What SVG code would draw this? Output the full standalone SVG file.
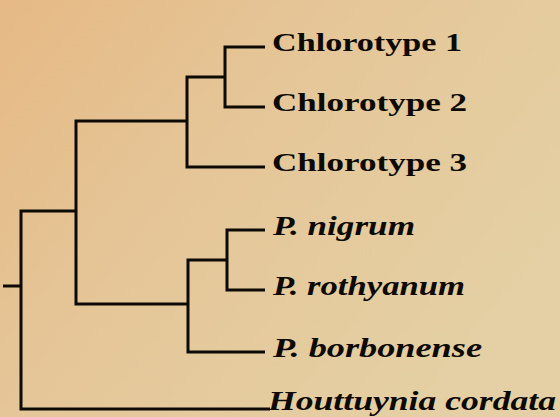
<svg xmlns="http://www.w3.org/2000/svg" width="560" height="417" viewBox="0 0 560 417">
  <defs>
    <linearGradient id="bg" x1="0" y1="0" x2="1" y2="0.6">
      <stop offset="0" stop-color="#e6b985"/>
      <stop offset="0.45" stop-color="#e5c698"/>
      <stop offset="1" stop-color="#e4d0a4"/>
    </linearGradient>
  </defs>
  <style>
    .br { fill: none; stroke: #0d0a06; stroke-width: 3; stroke-linecap: butt; stroke-linejoin: miter; }
    .lab { font-family: "Liberation Serif", "Times New Roman", serif; font-size: 26px; fill: #0d0a06; font-weight: bold; }
    .it { font-style: italic; font-size: 27px; }
  </style>
  <rect x="0" y="0" width="560" height="417" fill="url(#bg)"/>
  <g id="connectors">
    <path class="br" d="M3,286 H21"/>
    <path class="br" d="M76,409 H21 V211 H76"/>
    <path class="br" d="M187,304 H76 V121 H187"/>
    <path class="br" d="M265,167 H187 V77 H225"/>
    <path class="br" d="M265,47 H225 V107 H265"/>
    <path class="br" d="M265,352 H188 V260 H227"/>
    <path class="br" d="M265,230 H227 V290 H265"/>
    <path class="br" d="M76,409 H270"/>
  </g>
  <g id="chlorotype1"><text class="lab" x="272" y="51" textLength="190" lengthAdjust="spacingAndGlyphs">Chlorotype 1</text></g>
  <g id="chlorotype2"><text class="lab" x="272" y="111" textLength="195" lengthAdjust="spacingAndGlyphs">Chlorotype 2</text></g>
  <g id="chlorotype3"><text class="lab" x="272" y="171" textLength="195" lengthAdjust="spacingAndGlyphs">Chlorotype 3</text></g>
  <g id="p-nigrum"><text class="lab it" x="273" y="235" textLength="142" lengthAdjust="spacingAndGlyphs">P. nigrum</text></g>
  <g id="p-rothyanum"><text class="lab it" x="273" y="295" textLength="192" lengthAdjust="spacingAndGlyphs">P. rothyanum</text></g>
  <g id="p-borbonense"><text class="lab it" x="273" y="357" textLength="209" lengthAdjust="spacingAndGlyphs">P. borbonense</text></g>
  <g id="houttuynia"><text class="lab it" x="268" y="410" font-size="25" textLength="288" lengthAdjust="spacingAndGlyphs">Houttuynia cordata</text></g>
</svg>
